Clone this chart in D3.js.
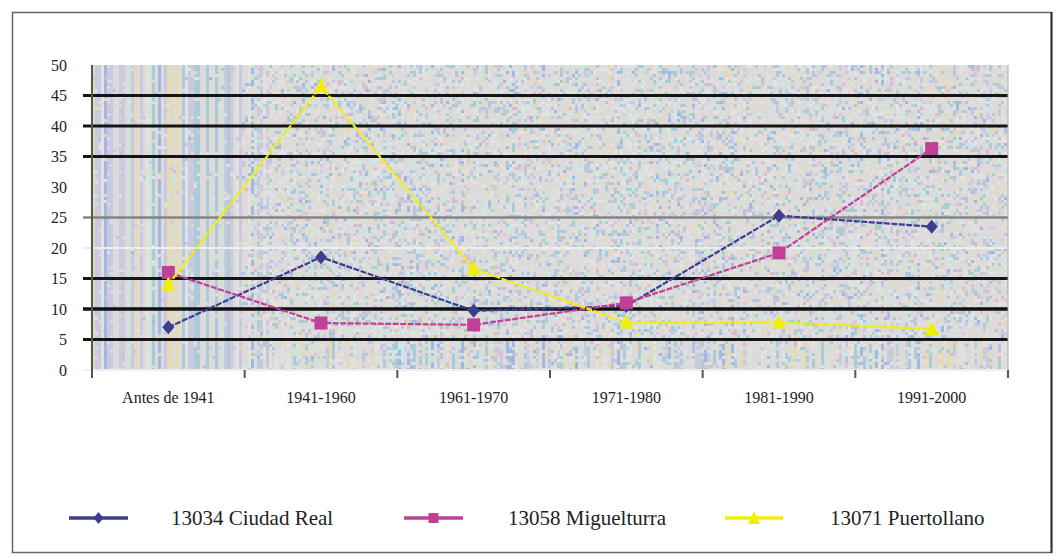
<!DOCTYPE html>
<head>
  <meta charset="utf-8">
  <script src='https://d3js.org/d3.v7.min.js'></script>
  <style>
    body {
      font-family: "Liberation Serif", "DejaVu Serif", serif;
      margin: 0;
      background: #fff;
    }
    svg text { font-family: "Liberation Serif", "DejaVu Serif", serif; }
  </style>
</head>

<body>
<div id='vis'></div>

<script>
const categories = ["Antes de 1941", "1941-1960", "1961-1970", "1971-1980", "1981-1990", "1991-2000"];
const ciudadReal = [7, 18.5, 9.7, 10.5, 25.3, 23.5];
const miguelturra = [16, 7.7, 7.4, 11, 19.2, 36.3];
const puertollano = [14, 46.5, 16.6, 7.8, 7.8, 6.7];
const seriesNames = ["13034 Ciudad Real", "13058 Miguelturra", "13071 Puertollano"];
const yTicks = [0, 5, 10, 15, 20, 25, 30, 35, 40, 45, 50];

const width = 1056, height = 557;
const plot = { left: 92, right: 1008, top: 65, bottom: 370 };
const serif = '"Liberation Serif", "DejaVu Serif", serif';

const svg = d3.select('#vis').append('svg')
  .attr('width', width)
  .attr('height', height)
  .attr('font-family', serif);

// outer frame
svg.append('rect')
  .attr('x', 12.5).attr('y', 12.5)
  .attr('width', 1039).attr('height', 540)
  .attr('fill', 'none')
  .attr('stroke', '#666')
  .attr('stroke-width', 1.5);
svg.append('line')
  .attr('x1', 1051.5).attr('x2', 1051.5).attr('y1', 12).attr('y2', 553)
  .attr('stroke', '#333').attr('stroke-width', 2);

const x = d3.scaleBand().domain(categories).range([plot.left, plot.right]);
const y = d3.scaleLinear().domain([0, 50]).range([plot.bottom, plot.top]);

// dithered background texture (decoration only)
function rng(seed) {
  return function() {
    seed |= 0; seed = seed + 0x6D2B79F5 | 0;
    let t = Math.imul(seed ^ seed >>> 15, 1 | seed);
    t = t + Math.imul(t ^ t >>> 7, 61 | t) ^ t;
    return ((t ^ t >>> 14) >>> 0) / 4294967296;
  }
}
const rand = rng(1941);
const palette = [
  ['#dedad9', 52], ['#e4e1e1', 16], ['#abcbd9', 11], ['#cbc8e2', 6],
  ['#e3dab6', 3], ['#cde4d7', 7], ['#a2b8e3', 2], ['#c6e9f6', 2], ['#dcbacb', 2]
];
const stripePalette = [
  ['#dedad9', 30], ['#e4e1e1', 12], ['#abcbd9', 18], ['#cbc8e2', 12],
  ['#e3dab6', 12], ['#cde4d7', 8], ['#a2b8e3', 6], ['#c6e9f6', 2]
];
function picker(pal) {
  const tot = d3.sum(pal, d => d[1]);
  return function() {
    let r = rand() * tot;
    for (const p of pal) { if ((r -= p[1]) < 0) return p[0]; }
    return pal[0][0];
  }
}
const pick = picker(palette), pickStripe = picker(stripePalette);
const pw = plot.right - plot.left, ph = plot.bottom - plot.top, bs = 3;
const canvas = document.createElement('canvas');
canvas.width = pw; canvas.height = ph;
const ctx = canvas.getContext('2d');
const cols = Math.ceil(pw / bs), rows = Math.ceil(ph / bs);
const colColour = d3.range(cols).map(() => pickStripe());
for (let c = 0; c < cols; c++) {
  for (let r = 0; r < rows; r++) {
    const px = c * bs, py = r * bs;
    let p = 0.06;
    if (px < 150) p = 0.9;
    else if (px < 175) p = 0.5;
    else if (py > 275) p = 0.55;
    else if (py < 12) p = 0.3;
    ctx.fillStyle = rand() < p ? colColour[c] : pick();
    ctx.fillRect(px, py, bs, bs);
  }
}
svg.append('image')
  .attr('x', plot.left).attr('y', plot.top)
  .attr('width', pw).attr('height', ph)
  .attr('preserveAspectRatio', 'none')
  .style('image-rendering', 'pixelated')
  .attr('href', canvas.toDataURL());

// gridlines
function gridStyle(v) {
  if (v === 50 || v === 30) return null;
  if (v === 0 || v === 20) return { c: '#eeeeee', w: 2 };
  if (v === 25) return { c: '#858585', w: 2.5 };
  if (v === 10) return { c: '#111', w: 3.5 };
  return { c: '#161414', w: 3 };
}
svg.append('g').selectAll('line')
  .data(yTicks.filter(v => gridStyle(v)))
  .join('line')
  .attr('x1', 83).attr('x2', plot.right)
  .attr('y1', d => y(d)).attr('y2', d => y(d))
  .attr('stroke', d => gridStyle(d).c)
  .attr('stroke-width', d => gridStyle(d).w);

// y axis
svg.append('line')
  .attr('x1', plot.left).attr('x2', plot.left)
  .attr('y1', plot.top).attr('y2', plot.bottom + 8)
  .attr('stroke', '#555').attr('stroke-width', 2);
svg.append('line')
  .attr('x1', plot.right).attr('x2', plot.right)
  .attr('y1', plot.top).attr('y2', plot.bottom)
  .attr('stroke', '#b0aab0').attr('stroke-width', 1);

svg.append('g').selectAll('text')
  .data(yTicks)
  .join('text')
  .attr('x', 67)
  .attr('y', d => y(d))
  .attr('dy', '0.35em')
  .attr('text-anchor', 'end')
  .style('font-size', '16px')
  .attr('fill', '#222')
  .text(d => d);

// x ticks at category boundaries
const bounds = categories.map(c => x(c)).concat([plot.right]).slice(1);
svg.append('g').selectAll('line')
  .data(bounds)
  .join('line')
  .attr('x1', d => d).attr('x2', d => d)
  .attr('y1', plot.bottom).attr('y2', plot.bottom + 8)
  .attr('stroke', '#555').attr('stroke-width', 2);

svg.append('g').selectAll('text')
  .data(categories)
  .join('text')
  .attr('x', d => x(d) + x.bandwidth() / 2)
  .attr('y', 403)
  .attr('text-anchor', 'middle')
  .style('font-size', '16px')
  .attr('fill', '#222')
  .text(d => d);

// series
const series = [
  { name: seriesNames[0], values: ciudadReal, colour: '#3d3d8f', marker: 'M0,-7L6,0L0,7L-6,0Z', small: 'M0,-6L5,0L0,6L-5,0Z' },
  { name: seriesNames[1], values: miguelturra, colour: '#c23f97', marker: 'M-6.5,-6.5H6.5V6.5H-6.5Z', small: 'M-5,-5H5V5H-5Z' },
  { name: seriesNames[2], values: puertollano, colour: '#f2f000', marker: 'M0,-8L7,6H-7Z', small: 'M0,-7L6,6H-6Z' }
];

const line = d3.line()
  .x((d, i) => x(categories[i]) + x.bandwidth() / 2)
  .y(d => y(d));

series.forEach(s => {
  svg.append('path')
    .attr('d', line(s.values))
    .attr('fill', 'none')
    .attr('stroke', s.colour)
    .attr('stroke-width', 2.2)
    .attr('stroke-dasharray', '6,1.5');

  svg.append('g').selectAll('path')
    .data(s.values)
    .join('path')
    .attr('transform', (d, i) => `translate(${x(categories[i]) + x.bandwidth() / 2},${y(d)})`)
    .attr('d', s.marker)
    .attr('fill', s.colour);
});

// legend
const legendItems = [
  { line: [69, 128], text: 171 },
  { line: [404, 463], text: 508 },
  { line: [725, 783], text: 830 }
];
const ly = 518;
series.forEach((s, i) => {
  const it = legendItems[i];
  svg.append('line')
    .attr('x1', it.line[0]).attr('x2', it.line[1])
    .attr('y1', ly).attr('y2', ly)
    .attr('stroke', s.colour).attr('stroke-width', 3.5);
  const mx = (it.line[0] + it.line[1]) / 2;
  svg.append('path')
    .attr('transform', `translate(${mx},${ly})`)
    .attr('d', s.small)
    .attr('fill', s.colour);
  svg.append('text')
    .attr('x', it.text)
    .attr('y', ly + 7)
    .style('font-size', '21px')
    .attr('fill', '#222')
    .text(s.name);
});
</script>
</body>
